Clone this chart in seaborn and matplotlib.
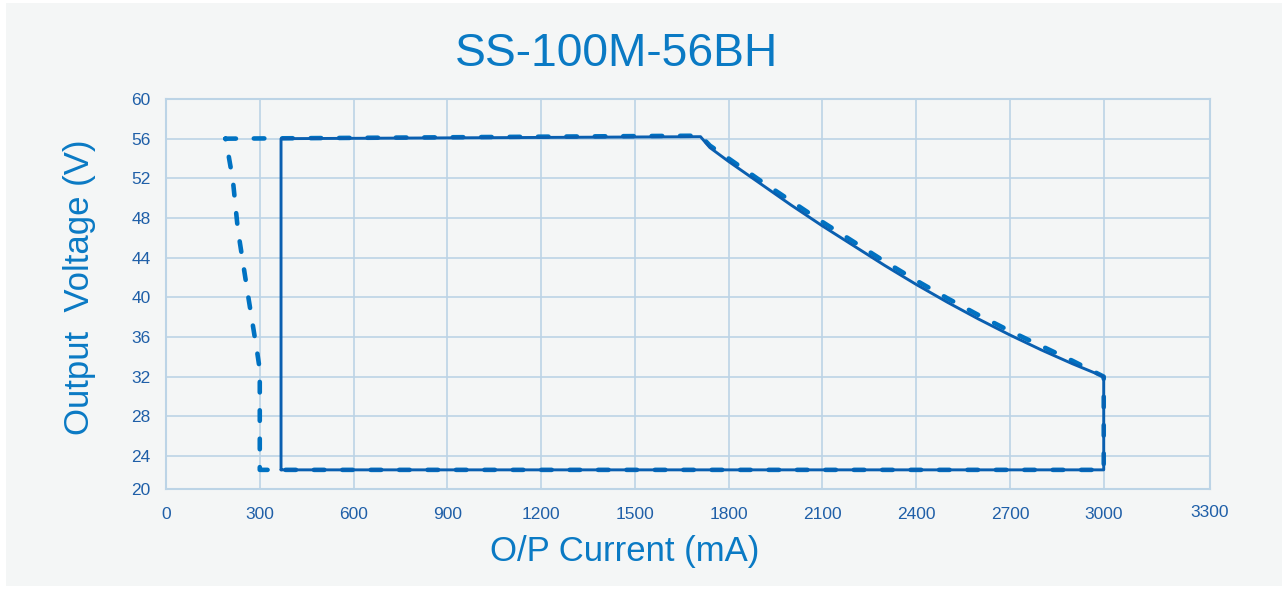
import numpy as np
import pandas as pd
import seaborn as sns
import matplotlib.pyplot as plt
from matplotlib.patches import Rectangle

# solid boundary (typical)
solid_ma = [368, 368, 1710, 1740, 1800, 1850, 1900, 2000, 2100, 2200, 2300, 2400,
            2500, 2600, 2700, 2800, 2900, 3000, 3000, 368]
solid_v = [22.6, 56.0, 56.2, 55.1, 53.7, 52.6, 51.5, 49.3, 47.2, 45.2, 43.2, 41.3,
           39.5, 37.8, 36.2, 34.7, 33.3, 32.0, 22.6, 22.6]

# dashed boundary (limits)
dashed_ma = [190, 1710, 1740, 1800, 1900, 2000, 2100, 2200, 2300, 2400, 2500,
             2600, 2700, 2800, 2900, 3000, 3000, 300, 300, 292, 265, 230, 214, 192, 190]
dashed_v = [56.0, 56.3, 55.3, 54.0, 51.8, 49.7, 47.6, 45.6, 43.6, 41.7, 39.9,
            38.2, 36.6, 35.1, 33.6, 32.0, 22.6, 22.6, 32.7, 34.4, 39.7, 46.8, 51.8, 55.8, 56.0]

x_ticks = [0, 300, 600, 900, 1200, 1500, 1800, 2100, 2400, 2700, 3000]
y_ticks = [24, 28, 32, 36, 40, 44, 48, 52, 56, 60]
x_max, y_min = 3340, 20.67   # frame edges, labelled 3300 and 20 as in the source

bg = '#f4f6f6'
grid_c = '#bcd4e6'
tick_c = '#1f5fa8'
label_c = '#0a7ac4'

sns.set_theme(style='whitegrid')
plt.rcParams['font.family'] = ['Liberation Sans', 'DejaVu Sans']

fig = plt.figure(figsize=(12.88, 5.89), dpi=100, facecolor='white')
panel = Rectangle((6/1288, 3/589), 1276/1288, 583/589,
                  transform=fig.transFigure, facecolor=bg,
                  edgecolor='none', zorder=-10)
fig.add_artist(panel)
ax = fig.add_axes([166/1288, 1 - 489/589, 1044/1288, 390/589])
ax.set_facecolor(bg)

sns.lineplot(x=dashed_ma, y=dashed_v, sort=False, estimator=None, ax=ax,
             color='#0072c2', linewidth=3.3, zorder=3)
ax.lines[-1].set_dashes((2.3, 3.9))
ax.lines[-1].set_dash_capstyle('round')
ax.lines[-1].set_solid_joinstyle('round')

sns.lineplot(x=solid_ma, y=solid_v, sort=False, estimator=None, ax=ax,
             color='#0a5fb0', linewidth=2.1, zorder=4)

ax.set_xlim(0, x_max)
ax.set_ylim(y_min, 60)
ax.set_xticks(x_ticks)
ax.set_yticks([y_min] + y_ticks, ['20'] + [str(v) for v in y_ticks])
ax.grid(True, color=grid_c, linewidth=1.2)
for s in ax.spines.values():
    s.set_color(grid_c)
    s.set_linewidth(1.5)
ax.tick_params(axis='both', length=0, labelsize=12.5, labelcolor=tick_c)
ax.tick_params(axis='x', pad=13)
ax.tick_params(axis='y', pad=11)
# last x label sits at the right frame edge, a touch higher
ax.text(x_max, -0.042, '3300', transform=ax.get_xaxis_transform(),
        ha='center', va='top', fontsize=12.5, color=tick_c)

ax.set_xlabel('O/P Current (mA)', fontsize=25, color=label_c)
ax.xaxis.set_label_coords((625 - 166) / 1044, -(552 - 489) / 390)
ax.xaxis.label.set_va('center')
ax.set_ylabel('Output  Voltage (V)', fontsize=25, color=label_c)
ax.yaxis.set_label_coords((80 - 166) / 1044, (489 - 287) / 390)
ax.yaxis.label.set_va('center')
fig.text(616/1288, 1 - 54/589, 'SS-100M-56BH', fontsize=33.3, color=label_c,
         ha='center', va='center')

fig.savefig('out.png', dpi=100, facecolor='white')
